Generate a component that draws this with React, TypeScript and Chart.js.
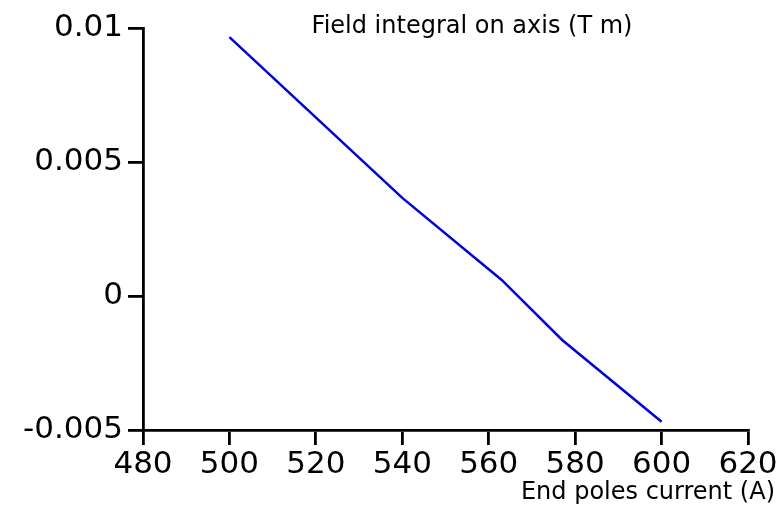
import React, { useEffect, useRef } from 'react';
import { Chart, registerables } from 'chart.js';

Chart.register(...registerables);

const currents = [500, 540, 563, 577, 600];
const fieldIntegral = [0.00966, 0.00366, 0.0006, -0.00164, -0.00469];
const yTitle = 'Field integral on axis (T m)';
const xTitle = 'End poles current (A)';

const FONT = '"DejaVu Sans", Verdana, sans-serif';

export default function App() {
  const ref = useRef<HTMLCanvasElement | null>(null);
  useEffect(() => {
    if (!ref.current) return;
    const titles = {
      id: 'titles',
      afterDraw(chart: any) {
        const { ctx, chartArea } = chart;
        ctx.save();
        ctx.fillStyle = '#000';
        ctx.font = `24px ${FONT}`;
        ctx.textBaseline = 'alphabetic';
        ctx.textAlign = 'center';
        ctx.fillText(yTitle, chartArea.left + 329, chartArea.top + 5);
        ctx.textAlign = 'right';
        ctx.fillText(xTitle, chartArea.right + 27, chartArea.bottom + 69);
        ctx.restore();
      },
    };
    const chart = new Chart(ref.current, {
      type: 'line',
      data: {
        datasets: [
          {
            data: currents.map((x, i) => ({ x, y: fieldIntegral[i] })),
            borderColor: '#0000dd',
            borderWidth: 2.5,
            pointRadius: 0,
            tension: 0,
            fill: false,
          },
        ],
      },
      options: {
        animation: false,
        responsive: false,
        plugins: { legend: { display: false }, tooltip: { enabled: false } },
        layout: { padding: { top: 28, right: 34, left: 0, bottom: 0 } },
        scales: {
          x: {
            type: 'linear',
            min: 480,
            max: 620,
            afterFit: (s: any) => {
              s.height = 75;
            },
            ticks: {
              stepSize: 20,
              color: '#000',
              font: { family: FONT, size: 31 },
              padding: 1,
              maxRotation: 0,
            },
            grid: {
              drawOnChartArea: false,
              drawTicks: true,
              tickLength: 15,
              color: '#000',
              lineWidth: 2.8,
            },
            border: { color: '#000', width: 2.8 },
          },
          y: {
            type: 'linear',
            min: -0.005,
            max: 0.01,
            afterFit: (s: any) => {
              s.width = 143;
            },
            ticks: {
              stepSize: 0.005,
              color: '#000',
              font: { family: FONT, size: 31 },
              padding: 5,
              callback: (v: any) => String(+Number(v).toFixed(6)),
            },
            grid: {
              drawOnChartArea: false,
              drawTicks: true,
              tickLength: 15,
              color: '#000',
              lineWidth: 2.8,
            },
            border: { color: '#000', width: 2.8 },
          },
        },
      },
      plugins: [titles],
    });
    return () => chart.destroy();
  }, []);
  return (
    <div style={{ position: 'fixed', left: 0, top: 0, width: 782, height: 505, background: '#fff' }}>
      <canvas ref={ref} width={782} height={505} />
    </div>
  );
}
